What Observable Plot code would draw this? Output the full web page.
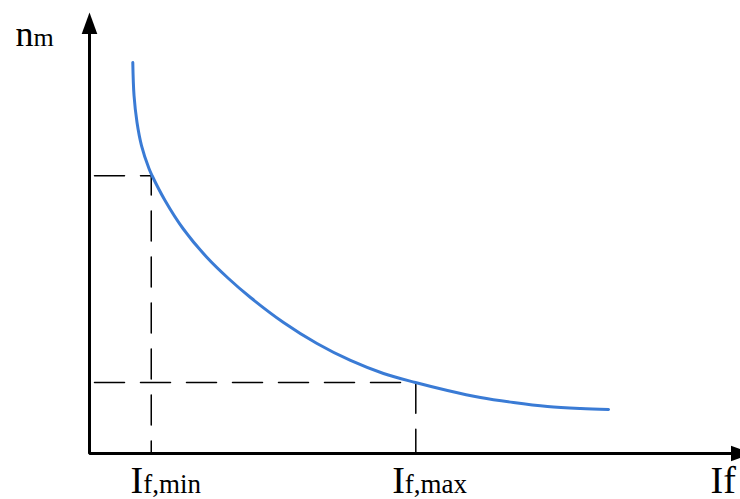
<!DOCTYPE html>
<html><head><meta charset="utf-8">
<script src="https://cdn.jsdelivr.net/npm/d3@7"></script>
<script src="https://cdn.jsdelivr.net/npm/@observablehq/plot@0.6"></script>
<style>html,body{margin:0;padding:0;background:#fff} svg{display:block}</style>
</head><body><div id="chart"></div>
<script>
// Field current (If) and speed (nm) of the curve, in axis units (0..100)
const curveIf = [6.66, 6.85, 7.31, 8.0, 9.15, 9.62, 11.62, 14.38, 18.08, 21.38, 24.77, 29.85, 35.0, 40.15, 45.23, 50.15, 55.08, 60.15, 65.23, 70.46, 75.54, 79.85];
const curveN  = [88.66, 81.18, 75.06, 69.84, 64.63, 63.04, 57.37, 51.02, 44.44, 39.68, 35.37, 29.71, 24.94, 21.09, 18.14, 16.10, 14.29, 12.70, 11.56, 10.66, 10.20, 9.98];
// Reference points If,min / If,max
const refNames = ["min", "max"];
const refIf = [9.5, 50.2];
const refN = [63.0, 16.1];
const refSub = ["f,min", "f,max"];
const refDx = [-8, -11];
// Axis extents and labels
const axisEndIf = 102;
const axisEndN = 100;
const xAxisLabel = ["I", "f"];
const yAxisLabel = ["n", "m"];

const curve = curveIf.map((v, i) => ({If: v, n: curveN[i]}));
const refs = refNames.map((k, i) => ({ref: k, If: refIf[i], n: refN[i], sub: refSub[i], dx: refDx[i]}));
const dashRows = refs.flatMap(r => [
  {ref: r.ref, If: 0, n: r.n},
  {ref: r.ref, If: r.If, n: r.n},
  {ref: r.ref, If: r.If, n: 0}
]);
const axisRows = [
  {If: 0, n: axisEndN - 3},
  {If: 0, n: 0},
  {If: axisEndIf - 3, n: 0}
];
const upHead = {draw(ctx) { ctx.moveTo(0, 0); ctx.lineTo(7.8, 21.5); ctx.lineTo(-7.8, 21.5); ctx.closePath(); }};
const rightHead = {draw(ctx) { ctx.moveTo(0, 0); ctx.lineTo(-21.5, -7.8); ctx.lineTo(-21.5, 7.8); ctx.closePath(); }};
const serif = "'Liberation Serif', 'Times New Roman', serif";

const marks = [
  Plot.line(dashRows, {x: "If", y: "n", z: "ref", stroke: "black", strokeWidth: 1.5,
    strokeDasharray: "30,16", strokeDashoffset: 41}),
  Plot.line(curve, {x: "If", y: "n", stroke: "#3a7bd5", strokeWidth: 3, curve: "catmull-rom"}),
  Plot.line(axisRows, {x: "If", y: "n", stroke: "black", strokeWidth: 3, strokeLinejoin: "miter"}),
  Plot.dot([{If: 0, n: axisEndN}], {x: "If", y: "n", symbol: upHead, r: 5, fill: "black", stroke: "none"}),
  Plot.dot([{If: axisEndIf, n: 0}], {x: "If", y: "n", symbol: rightHead, r: 5, fill: "black", stroke: "none"}),
  // y axis label n_m
  Plot.text([{If: 0, n: axisEndN}], {x: "If", y: "n", text: () => yAxisLabel[0], textAnchor: "end", lineAnchor: "bottom",
    dx: -56, dy: 33, fontSize: 36, fontFamily: serif, fill: "black"}),
  Plot.text([{If: 0, n: axisEndN}], {x: "If", y: "n", text: () => yAxisLabel[1], textAnchor: "start", lineAnchor: "bottom",
    dx: -56, dy: 33, fontSize: 26, fontFamily: serif, fill: "black"}),
  // x axis label If
  Plot.text([{If: axisEndIf, n: 0}], {x: "If", y: "n", text: () => xAxisLabel.join(""), textAnchor: "start", lineAnchor: "bottom",
    dx: -42, dy: 39, fontSize: 38, fontFamily: serif, fill: "black"})
];
refs.forEach(r => {
  marks.push(Plot.text([r], {x: "If", y: () => 0, text: () => "I", textAnchor: "end", lineAnchor: "bottom",
    dx: r.dx, dy: 39, fontSize: 38, fontFamily: serif, fill: "black"}));
  marks.push(Plot.text([r], {x: "If", y: () => 0, text: "sub", textAnchor: "start", lineAnchor: "bottom",
    dx: r.dx, dy: 39, fontSize: 27, fontFamily: serif, fill: "black"}));
});

const chart = Plot.plot({
  width: 740,
  height: 499,
  marginLeft: 89,
  marginRight: 1,
  marginTop: 12,
  marginBottom: 46,
  x: {domain: [0, 100], axis: null},
  y: {domain: [0, 100], axis: null},
  style: {background: "white", overflow: "visible"},
  marks
});
document.getElementById("chart").appendChild(chart);
</script>
</body></html>
